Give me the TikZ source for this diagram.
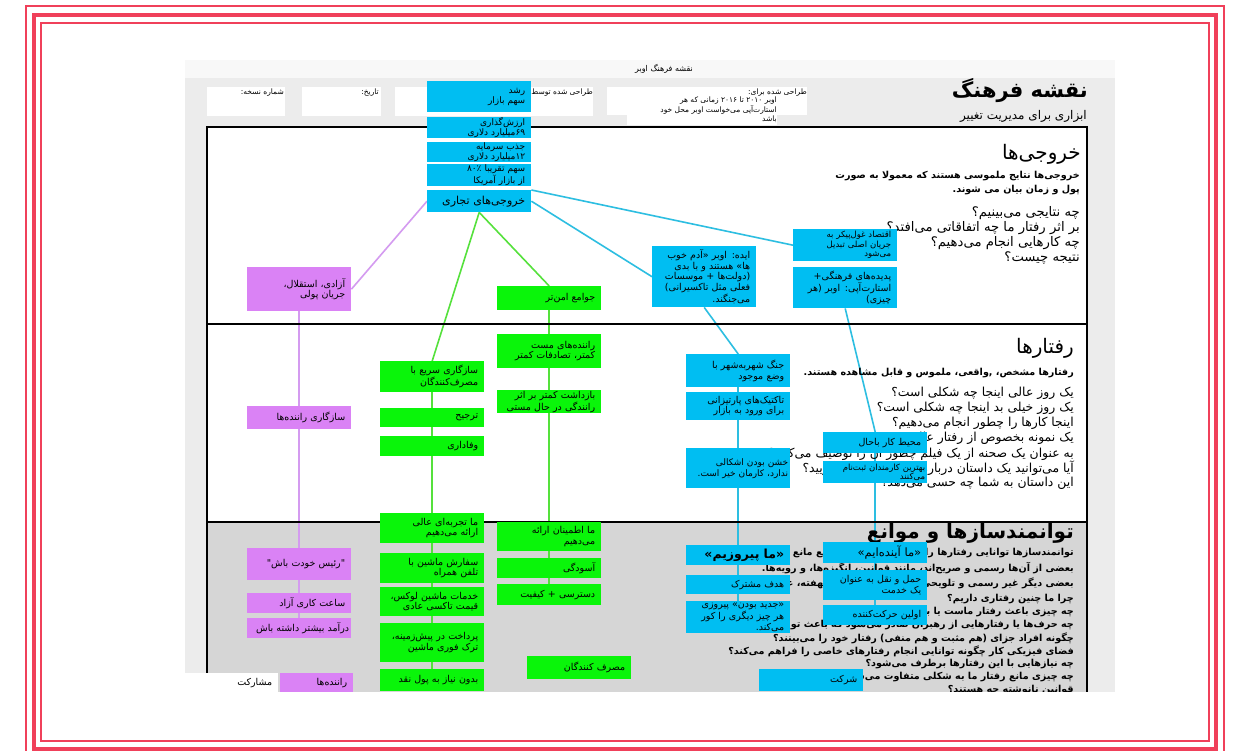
\documentclass[tikz,border=0pt]{standalone}
\usepackage{fontspec}
\usepackage{xcolor}
\usepackage{tikz}
\usetikzlibrary{positioning}
\TeXXeTstate=1
\newfontfamily\farsi[Script=Arabic]{DejaVu Sans}
\newcommand{\rl}[1]{\beginR #1\endR}

\definecolor{framered}{RGB}{240,64,90}
\definecolor{posterbg}{RGB}{236,236,236}
\definecolor{stripbg}{RGB}{248,248,248}
\definecolor{lowerbg}{RGB}{214,214,214}
\definecolor{cardblue}{RGB}{0,190,242}
\definecolor{cardgreen}{RGB}{10,245,10}
\definecolor{cardpurple}{RGB}{218,130,245}
\definecolor{linkblue}{RGB}{45,190,225}
\definecolor{linkgreen}{RGB}{85,225,60}
\definecolor{linkpurple}{RGB}{212,155,240}

\pgfdeclarelayer{panels}
\pgfdeclarelayer{links}
\pgfsetlayers{panels,links,main}

\tikzstyle{card}       = [anchor=north west, inner xsep=6pt, inner ysep=0.5pt, text width=92pt, align=right, font=\farsi\fontsize{9.5}{10.5}\selectfont]
\tikzstyle{bluecard}   = [card, fill=cardblue]
\tikzstyle{greencard}  = [card, fill=cardgreen]
\tikzstyle{purplecard} = [card, fill=cardpurple]
\tikzstyle{tight}      = [font=\farsi\fontsize{9}{10}\selectfont]
\tikzstyle{wide}       = [inner xsep=2pt, text width=100pt]
\tikzstyle{link}       = [line width=1.6pt]
\tikzstyle{heading}    = [anchor=east, inner sep=0pt, font=\farsi\fontsize{20}{24}\selectfont]
\tikzstyle{lead}       = [anchor=east, inner sep=0pt, font=\farsi\bfseries\fontsize{9.6}{12}\selectfont]
\tikzstyle{asks}       = [anchor=east, inner sep=0pt, font=\farsi\fontsize{12.4}{14}\selectfont]
\tikzstyle{headnote}   = [anchor=north east, inner sep=0pt, align=right, font=\farsi\fontsize{7.5}{8.5}\selectfont]

\begin{document}
\begin{tikzpicture}[x=1pt, y=-1pt]
    \useasboundingbox (0,0) rectangle (1233,751);

    % red page frame
    \draw[framered, line width=2pt] (26,6.5) rectangle (1224,757);
    \draw[framered, line width=4pt] (34,15) rectangle (1216,748.5);
    \draw[framered, line width=2pt] (40.5,23) rectangle (1209,740.5);

    % poster background, header boxes and the three bands
    \begin{pgfonlayer}{panels}
        \fill[posterbg] (185,60) rectangle (1115,692);
        \fill[stripbg]  (185,60) rectangle (1115,78);
        \fill[white] (207,87) rectangle (285,116);
        \fill[white] (302,87) rectangle (381,116);
        \fill[white] (395,87) rectangle (593,116);
        \fill[white] (607,87) rectangle (807,115);
        \fill[white] (627,114) rectangle (777,125);
        \fill[white]   (207,127) rectangle (1087,522);
        \fill[lowerbg] (207,522) rectangle (1087,692);
    \end{pgfonlayer}
    \draw[line width=2.6pt] (207,692) -- (207,127) -- (1087,127) -- (1087,692);
    \draw[line width=2.6pt] (207,324) -- (1087,324);
    \draw[line width=2.6pt] (207,522) -- (1087,522);

    % header
    \node[font=\farsi\fontsize{8}{9}\selectfont] (maptitle) at (664,69) {\rl{نقشه فرهنگ اوبر}};
    \node[headnote] (version)   at (284,89) {\rl{شماره نسخه:}};
    \node[headnote] (date)      at (379,89) {\rl{تاریخ:}};
    \node[headnote] (designer)  at (593,89) {\rl{طراحی شده توسط:}};
    \node[headnote] (designfor) at (807,89) {\rl{طراحی شده برای:}};
    \node[headnote] (purpose)   at (777,97) {\rl{اوبر ۲۰۱۰ تا ۲۰۱۶ زمانی که هر}\\\rl{استارت‌آپی می‌خواست اوبر محل خود}\\\rl{باشد}};
    \node[anchor=east, inner sep=0pt, font=\farsi\bfseries\fontsize{21}{25}\selectfont] (maintitle) at (1088,91) {\rl{نقشه فرهنگ}};
    \node[anchor=east, inner sep=0pt, font=\farsi\fontsize{12}{14}\selectfont] (subtitle) at (1087,116) {\rl{ابزاری برای مدیریت تغییر}};

    % band 1: outputs
    \node[heading] (outhead) at (1081,154) {\rl{خروجی‌ها}};
    \node[lead] (outlead)  at (1080,176) {\rl{خروجی‌ها نتایج ملموسی هستند که معمولا به صورت}};
    \node[lead] (outlead2) at (1080,190) {\rl{پول و زمان بیان می شوند.}};
    \foreach \q [count=\i] in {{چه نتایجی می‌بینیم؟}, {بر اثر رفتار ما چه اتفاقاتی می‌افتد؟}, {چه کارهایی انجام می‌دهیم؟}, {نتیجه چیست؟}}
        \node[asks, font=\farsi\fontsize{13.2}{15}\selectfont] (outq\i) at (1080,{198+15*\i}) {\rl{\q}};

    % band 2: behaviours
    \node[heading] (behhead) at (1074,348) {\rl{رفتارها}};
    \node[lead] (behlead) at (1074,373) {\rl{رفتارها مشخص، ,واقعی، ملموس و قابل مشاهده هستند.}};
    \foreach \q [count=\i] in {{یک روز عالی اینجا چه شکلی است؟}, {یک روز خیلی بد اینجا چه شکلی است؟}, {اینجا کارها را چطور انجام می‌دهیم؟}, {یک نمونه بخصوص از رفتار عالی بزنید.}, {به عنوان یک صحنه از یک فیلم چطور آن را توصیف می‌کنید؟}, {آیا می‌توانید یک داستان درباره یک رفتار عادی بگویید؟}, {این داستان به شما چه حسی می‌دهد؟}}
        \node[asks] (behq\i) at (1074,{378+15*\i}) {\rl{\q}};

    % band 3: enablers and blockers
    \node[heading, font=\farsi\bfseries\fontsize{20}{24}\selectfont] (enahead) at (1074,533) {\rl{توانمندسازها و موانع}};
    \foreach \q [count=\i] in {{توانمندسازها توانایی رفتارها را فراهم می‌کنند و موانع مانع رفتارها می‌شوند.}, {بعضی از آن‌ها رسمی و صریح‌اند، مانند قوانین، انگیزه‌ها، و رویه‌ها.}, {بعضی دیگر غیر رسمی و تلویحی‌اند، مانند هنجارهای نهفته، عادت‌ها.}}
        \node[lead] (enalead\i) at (1074,{538+15*\i}) {\rl{\q}};
    \foreach \q [count=\i] in {{چرا ما چنین رفتاری داریم؟}, {چه چیزی باعث رفتار ماست یا برعکس؟}, {چه حرف‌ها یا رفتارهایی از رهبران صادر می‌شود که باعث توانمندسازی می‌شود؟}, {چگونه افراد جزای (هم مثبت و هم منفی) رفتار خود را می‌بینند؟}, {فضای فیزیکی کار چگونه توانایی انجام رفتارهای خاصی را فراهم می‌کند؟}, {چه نیازهایی با این رفتارها برطرف می‌شود؟}, {چه چیزی مانع رفتار ما به شکلی متفاوت می‌شود؟}, {قوانین نانوشته چه هستند؟}}
        \node[lead] (enaq\i) at (1074,{586+13*\i}) {\rl{\q}};

    % business outputs stack
    \node[bluecard, tight, minimum height=31pt] (grow)   at (427,81)  {\rl{رشد}\\\rl{سهم بازار}};
    \node[bluecard, tight, minimum height=21pt] (value)  at (427,117) {\rl{ارزش‌گذاری}\\\rl{۶۹میلیارد دلاری}};
    \node[bluecard, tight, minimum height=20pt] (funds)  at (427,142) {\rl{جذب سرمایه}\\\rl{۱۲میلیارد دلاری}};
    \node[bluecard, tight, minimum height=21pt] (share)  at (427,164) {\rl{سهم تقریبا ۸۰٪}\\\rl{از بازار آمریکا}};
    \node[bluecard, minimum height=22pt, font=\farsi\fontsize{11}{13}\selectfont] (biz) at (427,190) {\rl{خروجی‌های تجاری}};

    % drivers column
    \node[purplecard, minimum height=44pt] (freedom) at (247,267) {\rl{آزادی، استقلال،}\\\rl{جریان پولی}};
    \node[purplecard, minimum height=23pt] (adapt)   at (247,406) {\rl{سازگاری راننده‌ها}};
    \node[purplecard, minimum height=32pt] (boss)    at (247,548) {\rl{"رئیس خودت باش"}};
    \node[purplecard, minimum height=20pt] (hours)   at (247,593) {\rl{ساعت کاری آزاد}};
    \node[purplecard, wide, minimum height=20pt] (income) at (247,618) {\rl{درآمد بیشتر داشته باش}};

    % riders column
    \node[greencard, minimum height=31pt] (quick)  at (380,361) {\rl{سازگاری سریع با}\\\rl{مصرف‌کنندگان}};
    \node[greencard, minimum height=19pt] (prefer) at (380,408) {\rl{ترجیح}};
    \node[greencard, minimum height=20pt] (loyal)  at (380,436) {\rl{وفاداری}};
    \node[greencard, minimum height=30pt] (great)  at (380,513) {\rl{ما تجربه‌ای عالی}\\\rl{ارائه می‌دهیم}};
    \node[greencard, minimum height=30pt] (mobile) at (380,553) {\rl{سفارش ماشین با}\\\rl{تلفن همراه}};
    \node[greencard, minimum height=29pt] (luxury) at (380,587) {\rl{خدمات ماشین لوکس،}\\\rl{قیمت تاکسی عادی}};
    \node[greencard, minimum height=39pt] (pay)    at (380,623) {\rl{پرداخت در پیش‌زمینه،}\\\rl{ترک فوری ماشین}};
    \node[greencard, minimum height=22pt] (cash)   at (380,669) {\rl{بدون نیاز به پول نقد}};

    % community column
    \node[greencard, minimum height=24pt] (safer)  at (497,286) {\rl{جوامع امن‌تر}};
    \node[greencard, minimum height=34pt] (drunk)  at (497,334) {\rl{راننده‌های مست}\\\rl{کمتر، تصادفات کمتر}};
    \node[greencard, minimum height=23pt] (arrest) at (497,390) {\rl{بازداشت کمتر بر اثر}\\\rl{رانندگی در حال مستی}};
    \node[greencard, minimum height=29pt] (trust)  at (497,522) {\rl{ما اطمینان ارائه}\\\rl{می‌دهیم}};
    \node[greencard, minimum height=20pt] (calm)   at (497,558) {\rl{آسودگی}};
    \node[greencard, minimum height=21pt] (access) at (497,584) {\rl{دسترسی + کیفیت}};
    \node[greencard, minimum height=23pt] (users)  at (527,656) {\rl{مصرف کنندگان}};

    % company columns
    \node[bluecard, minimum height=61pt] (idea)      at (652,246) {\rl{ایده: اوبر «آدم خوب}\\\rl{ها» هستند و با بدی}\\\rl{(دولت‌ها + موسسات}\\\rl{فعلی مثل تاکسیرانی)}\\\rl{می‌جنگند.}};
    \node[bluecard, minimum height=32pt, font=\farsi\fontsize{8.5}{9.5}\selectfont] (gig) at (793,229) {\rl{اقتصاد غول‌پیکر به}\\\rl{جریان اصلی تبدیل}\\\rl{می‌شود}};
    \node[bluecard, minimum height=41pt] (hype)      at (793,267) {\rl{پدیده‌های فرهنگی+}\\\rl{استارت‌آپی: اوبر (هر}\\\rl{چیزی)}};
    \node[bluecard, minimum height=33pt] (war)       at (686,354) {\rl{جنگ شهربه‌شهر با}\\\rl{وضع موجود}};
    \node[bluecard, minimum height=28pt] (guerrilla) at (686,392) {\rl{تاکتیک‌های پارتیزانی}\\\rl{برای ورود به بازار}};
    \node[bluecard, wide, minimum height=40pt, font=\farsi\fontsize{9}{11}\selectfont] (rough) at (686,448) {\rl{خشن بودن اشکالی}\\\rl{ندارد، کارمان خیر است.}};
    \node[bluecard, minimum height=20pt, font=\farsi\bfseries\fontsize{12.5}{14}\selectfont] (win) at (686,545) {\rl{«ما پیروزیم»}};
    \node[bluecard, minimum height=19pt] (goal)      at (686,575) {\rl{هدف مشترک}};
    \node[bluecard, minimum height=32pt] (novel)     at (686,601) {\rl{«جدید بودن» پیروزی}\\\rl{هر چیز دیگری را کور}\\\rl{می‌کند.}};
    \node[bluecard, minimum height=21pt] (cool)      at (823,432) {\rl{محیط کار باحال}};
    \node[bluecard, wide, minimum height=22pt, font=\farsi\fontsize{8.5}{9.5}\selectfont] (talent) at (823,461) {\rl{بهترین کارمندان ثبت‌نام}\\\rl{می‌کنند}};
    \node[bluecard, minimum height=21pt, font=\farsi\fontsize{11.5}{13}\selectfont] (future) at (823,542) {\rl{«ما آینده‌ایم»}};
    \node[bluecard, minimum height=30pt] (transit)   at (823,570) {\rl{حمل و نقل به عنوان}\\\rl{یک خدمت}};
    \node[bluecard, minimum height=20pt] (first)     at (823,605) {\rl{اولین حرکت‌کننده}};
    \node[bluecard, minimum height=22pt] (firm)      at (759,669) {\rl{شرکت}};

    % legend row
    \node[card, fill=white, text width=81pt, minimum height=19pt] (sharing) at (185,673) {\rl{مشارکت}};
    \node[purplecard, text width=61pt, minimum height=19pt] (drivers) at (280,673) {\rl{راننده‌ها}};

    % connectors
    \begin{pgfonlayer}{links}
        \draw[link, linkpurple] (biz.west) -- (freedom.east);
        \draw[link, linkpurple] (freedom) -- (income);
        \draw[link, linkgreen] (biz.south) -- (quick.north);
        \draw[link, linkgreen] (quick) -- (cash);
        \draw[link, linkgreen] (biz.south) -- (safer.north);
        \draw[link, linkgreen] (safer) -- (access);
        \draw[link, linkblue] (biz.north east) -- (gig.west);
        \draw[link, linkblue] (biz.east) -- (idea.west);
        \draw[link, linkblue] (idea.south) -- (war.north);
        \draw[link, linkblue] (war) -- (novel);
        \draw[link, linkblue] (hype.south) -- (cool.north);
        \draw[link, linkblue] (cool) -- (first);
    \end{pgfonlayer}

    % the poster is cut off at the bottom
    \fill[white] (180,692) rectangle (1120,738);
\end{tikzpicture}
\end{document}
